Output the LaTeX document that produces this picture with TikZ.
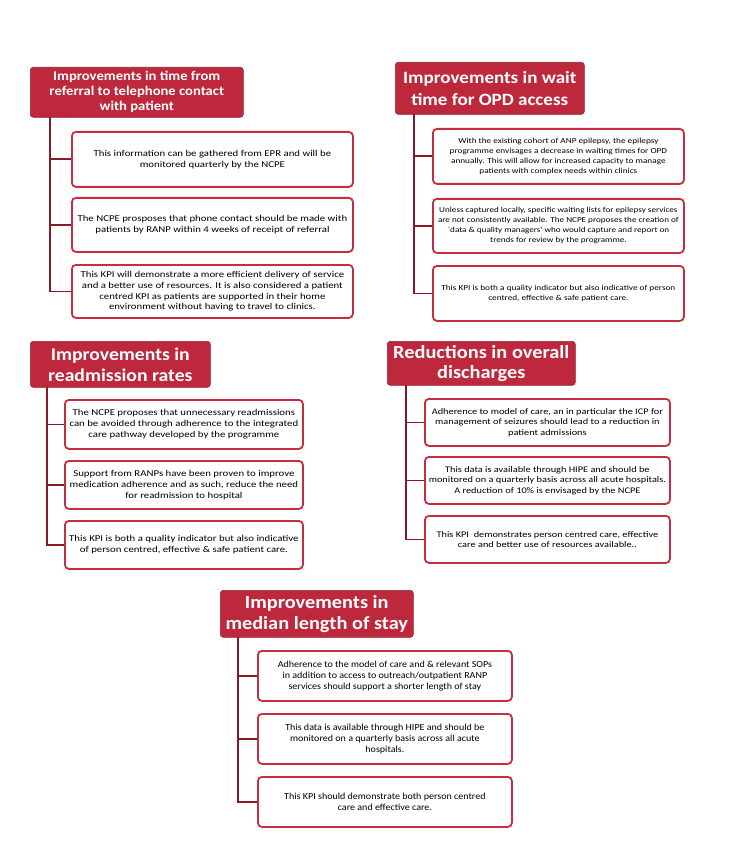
\documentclass[tikz,border=0pt]{standalone}
\usepackage{fontspec}
\setmainfont{Carlito}
\newfontfamily\bodyfont[FakeStretch=1.2]{Carlito}
\newfontfamily\bodyfontb[FakeStretch=1.08]{Carlito}
\newfontfamily\titlefont[FakeStretch=1.1]{Carlito}
\definecolor{tfill}{RGB}{190,40,60}
\definecolor{bdraw}{RGB}{198,45,62}
\definecolor{cline}{RGB}{138,24,38}
\tikzset{
  ttl/.style={fill=tfill, draw=tfill!80!black, line width=0.6pt, rounded corners=3pt, text=white, align=center, inner sep=2pt, anchor=north west},
  kbox/.style={draw=bdraw, line width=1.8pt, fill=white, rounded corners=4pt, align=center, inner sep=2pt, anchor=north west},
  conn/.style={draw=cline, line width=1.8pt}
}
\begin{document}
\begin{tikzpicture}[x=1pt,y=-1pt]
\useasboundingbox (0,0) rectangle (734,850);
% ---------- Group 1
\node[ttl, minimum width=213pt, minimum height=50pt, font=\titlefont\bfseries\fontsize{13.3}{15}\selectfont] (t1) at (30,67) {Improvements in time from\\referral to telephone contact\\with patient};
\node[kbox, minimum width=281pt, minimum height=55pt, font=\bodyfont\fontsize{9}{10.7}\selectfont] (b11) at (71,131) {This information can be gathered from EPR and will be\\monitored quarterly by the NCPE};
\node[kbox, minimum width=281pt, minimum height=54pt, font=\bodyfont\fontsize{9}{10.7}\selectfont] (b12) at (71,197) {The NCPE prosposes that phone contact should be made with\\patients by RANP within 4 weeks of receipt of referral};
\node[kbox, minimum width=281pt, minimum height=53pt, font=\bodyfont\fontsize{9}{10.7}\selectfont] (b13) at (71,264) {This KPI will demonstrate a more efficient delivery of service\\and a better use of resources. It is also considered a patient\\centred KPI as patients are supported in their home\\environment without having to travel to clinics.};
\coordinate (v1) at (50,117);
\draw[conn] (v1) |- (b11.west);
\draw[conn] (v1) |- (b12.west);
\draw[conn] (v1) |- (b13.west);
% ---------- Group 2
\node[ttl, minimum width=189pt, minimum height=52pt, font=\titlefont\bfseries\fontsize{17.3}{21.5}\selectfont] (t2) at (395,62) {Improvements in wait\\time for OPD access};
\node[kbox, minimum width=251pt, minimum height=55pt, font=\bodyfont\fontsize{7.7}{10}\selectfont] (b21) at (432,128) {With the existing cohort of ANP epilepsy, the epilepsy\\programme envisages a decrease in waiting times for OPD\\annually. This will allow for increased capacity to manage\\patients with complex needs within clinics};
\node[kbox, minimum width=251pt, minimum height=54pt, font=\bodyfont\fontsize{7.6}{10}\selectfont] (b22) at (432,198) {Unless captured locally, specific waiting lists for epilepsy services\\are not consistently available. The NCPE proposes the creation of\\`data \& quality managers' who would capture and report on\\trends for review by the programme.};
\node[kbox, minimum width=251pt, minimum height=55pt, font=\bodyfont\fontsize{7.7}{10}\selectfont] (b23) at (432,265) {This KPI is both a quality indicator but also indicative of person\\centred, effective \& safe patient care.};
\coordinate (v2) at (414,114);
\draw[conn] (v2) |- (b21.west);
\draw[conn] (v2) |- (b22.west);
\draw[conn] (v2) |- (b23.west);
% ---------- Group 3
\node[ttl, minimum width=180pt, minimum height=46pt, font=\titlefont\bfseries\fontsize{17.9}{21}\selectfont] (t3) at (30,341) {Improvements in\\readmission rates};
\node[kbox, minimum width=238pt, minimum height=49pt, font=\bodyfont\fontsize{9}{10.8}\selectfont] (b31) at (64,399) {The NCPE proposes that unnecessary readmissions\\can be avoided through adherence to the integrated\\care pathway developed by the programme};
\node[kbox, minimum width=238pt, minimum height=48pt, font=\bodyfont\fontsize{9}{10.8}\selectfont] (b32) at (64,460) {Support from RANPs have been proven to improve\\medication adherence and as such, reduce the need\\for readmission to hospital};
\node[kbox, minimum width=238pt, minimum height=48pt, font=\bodyfont\fontsize{9}{10.8}\selectfont] (b33) at (64,520) {This KPI is both a quality indicator but also indicative\\of person centred, effective \& safe patient care.};
\coordinate (v3) at (47,387);
\draw[conn] (v3) |- (b31.west);
\draw[conn] (v3) |- (b32.west);
\draw[conn] (v3) |- (b33.west);
% ---------- Group 4
\node[ttl, minimum width=188pt, minimum height=44pt, font=\titlefont\bfseries\fontsize{18.5}{20}\selectfont] (t4) at (387,341) {Reductions in overall\\discharges};
\node[kbox, minimum width=245pt, minimum height=47pt, font=\bodyfont\fontsize{8.6}{10.4}\selectfont] (b41) at (424,398) {Adherence to model of care, an in particular the ICP for\\management of seizures should lead to a reduction in\\patient admissions};
\node[kbox, minimum width=245pt, minimum height=47pt, font=\bodyfont\fontsize{8.6}{10.4}\selectfont] (b42) at (424,456) {This data is available through HIPE and should be\\monitored on a quarterly basis across all acute hospitals.\\A reduction of 10\% is envisaged by the NCPE};
\node[kbox, minimum width=245pt, minimum height=47pt, font=\bodyfont\fontsize{8.6}{10.4}\selectfont] (b43) at (424,515) {This KPI\ \ demonstrates person centred care, effective\\care and better use of resources available..};
\coordinate (v4) at (406,385);
\draw[conn] (v4) |- (b41.west);
\draw[conn] (v4) |- (b42.west);
\draw[conn] (v4) |- (b43.west);
% ---------- Group 5
\node[ttl, minimum width=193pt, minimum height=47pt, font=\titlefont\bfseries\fontsize{18.5}{21}\selectfont] (t5) at (220,590) {Improvements in\\median length of stay};
\node[kbox, minimum width=254pt, minimum height=50pt, font=\bodyfontb\fontsize{9.3}{11.2}\selectfont] (b51) at (257,650) {Adherence to the model of care and \& relevant SOPs\\in addition to access to outreach/outpatient RANP\\services should support a shorter length of stay};
\node[kbox, minimum width=254pt, minimum height=50pt, font=\bodyfontb\fontsize{9.3}{11.2}\selectfont] (b52) at (257,713) {This data is available through HIPE and should be\\monitored on a quarterly basis across all acute\\hospitals.};
\node[kbox, minimum width=254pt, minimum height=50pt, font=\bodyfontb\fontsize{9.3}{11.2}\selectfont] (b53) at (257,776) {This KPI should demonstrate both person centred\\care and effective care.};
\coordinate (v5) at (238,637);
\draw[conn] (v5) |- (b51.west);
\draw[conn] (v5) |- (b52.west);
\draw[conn] (v5) |- (b53.west);
\end{tikzpicture}
\end{document}
